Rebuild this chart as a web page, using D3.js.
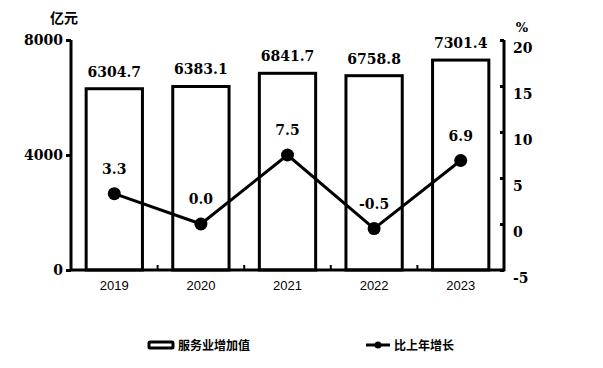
<!DOCTYPE html>
<html>
<head>
<meta charset="utf-8">
<script src="https://cdn.jsdelivr.net/npm/d3@7"></script>
<style>
  html, body { margin: 0; padding: 0; background: #fff; }
  svg { display: block; }
</style>
</head>
<body>
<svg id="chart" width="603" height="368"></svg>
<script>
const years = ["2019", "2020", "2021", "2022", "2023"];
const valueAdded = [6304.7, 6383.1, 6841.7, 6758.8, 7301.4];
const growth = [3.3, 0.0, 7.5, -0.5, 6.9];
const leftTicks = [0, 4000, 8000];
const rightTicks = [-5, 0, 5, 10, 15, 20];
const leftUnit = "亿元";
const rightUnit = "%";
const legendLabels = ["服务业增加值", "比上年增长"];

const svg = d3.select("#chart");
const numFont = "'DejaVu Serif', serif";
const cjkFont = "'Noto Sans CJK SC', sans-serif";

const x = d3.scaleBand().domain(years).range([71, 504]).paddingInner(0.35).paddingOuter(0.175);
const band = d3.scaleBand().domain(years).range([71, 504]);
const yL = d3.scaleLinear().domain([0, 8000]).range([270, 40]);
const yR = d3.scaleLinear().domain([-5, 20]).range([270, 40]);

// Bars
svg.append("g").selectAll("rect").data(years).join("rect")
  .attr("x", d => x(d))
  .attr("y", (d, i) => yL(valueAdded[i]))
  .attr("width", x.bandwidth())
  .attr("height", (d, i) => yL(0) - yL(valueAdded[i]))
  .attr("fill", "#fff").attr("stroke", "#000").attr("stroke-width", 3);

// Bar labels
svg.append("g").selectAll("text").data(years).join("text")
  .attr("x", d => x(d) + x.bandwidth() / 2)
  .attr("y", (d, i) => yL(valueAdded[i]) - 12)
  .attr("text-anchor", "middle")
  .attr("font-family", numFont).attr("font-weight", "bold").attr("font-size", 14)
  .text((d, i) => valueAdded[i].toFixed(1));

// Left axis
const gL = svg.append("g").attr("transform", "translate(71,0)")
  .call(d3.axisLeft(yL).tickValues(leftTicks).tickSize(5).tickFormat(d => String(d)));
gL.select(".domain").attr("stroke-width", 3).attr("d", "M0,271V40");
gL.selectAll(".tick line").attr("stroke-width", 3);
gL.selectAll(".tick text").attr("font-family", numFont).attr("font-weight", "bold")
  .attr("font-size", 14).attr("fill", "#000").attr("x", -8);

// Right axis
const gR = svg.append("g").attr("transform", "translate(504,0)")
  .call(d3.axisRight(yR).tickValues(rightTicks).tickSize(0).tickFormat(d => String(d)));
gR.select(".domain").attr("stroke-width", 3).attr("d", "M0,271V40");
gR.selectAll(".tick line").attr("x2", -4).attr("stroke-width", 3);
gR.selectAll(".tick text").attr("font-family", numFont).attr("font-weight", "bold")
  .attr("font-size", 14).attr("fill", "#000").attr("x", 9).attr("dy", "1.0em")
  .attr("y", -2);

// Bottom axis
const gB = svg.append("g").attr("transform", "translate(0,270)")
  .call(d3.axisBottom(band).tickSize(0).tickPadding(11));
gB.select(".domain").attr("stroke-width", 3).attr("d", "M70,0H505");
gB.selectAll(".tick text").attr("font-family", "'Liberation Sans', sans-serif")
  .attr("font-size", 13).attr("fill", "#000");
// minor ticks at band boundaries
svg.append("g").selectAll("line").data(years.slice(1)).join("line")
  .attr("x1", d => band(d)).attr("x2", d => band(d))
  .attr("y1", 270).attr("y2", 265)
  .attr("stroke", "#000").attr("stroke-width", 2);

// Line
const cx = d => band(d) + band.bandwidth() / 2;
const line = d3.line().x((d, i) => cx(years[i])).y(d => yR(d));
svg.append("path").datum(growth).attr("d", line)
  .attr("fill", "none").attr("stroke", "#000").attr("stroke-width", 3);
svg.append("g").selectAll("circle").data(growth).join("circle")
  .attr("cx", (d, i) => cx(years[i])).attr("cy", d => yR(d)).attr("r", 6.5).attr("fill", "#000");
svg.append("g").selectAll("text").data(growth).join("text")
  .attr("x", (d, i) => cx(years[i]))
  .attr("y", d => yR(d) - 20)
  .attr("text-anchor", "middle")
  .attr("font-family", numFont).attr("font-weight", "bold").attr("font-size", 14)
  .text(d => d.toFixed(1));

// Units
svg.append("text").attr("x", 64).attr("y", 23).attr("text-anchor", "middle")
  .attr("font-family", cjkFont).attr("font-weight", "bold").attr("font-size", 14).text(leftUnit);
svg.append("text").attr("x", 522).attr("y", 32).attr("text-anchor", "middle")
  .attr("font-family", numFont).attr("font-weight", "bold").attr("font-size", 13).text(rightUnit);

// Legend
const lg = svg.append("g");
lg.append("rect").attr("x", 149).attr("y", 342).attr("width", 24).attr("height", 6)
  .attr("fill", "#fff").attr("stroke", "#000").attr("stroke-width", 3).attr("rx", 1);
lg.append("text").attr("x", 178).attr("y", 350)
  .attr("font-family", cjkFont).attr("font-weight", "bold").attr("font-size", 12).text(legendLabels[0]);
lg.append("line").attr("x1", 366).attr("x2", 390).attr("y1", 345).attr("y2", 345)
  .attr("stroke", "#000").attr("stroke-width", 3);
lg.append("circle").attr("cx", 378).attr("cy", 345).attr("r", 3.5).attr("fill", "#000");
lg.append("text").attr("x", 394).attr("y", 350)
  .attr("font-family", cjkFont).attr("font-weight", "bold").attr("font-size", 12).text(legendLabels[1]);
</script>
</body>
</html>
